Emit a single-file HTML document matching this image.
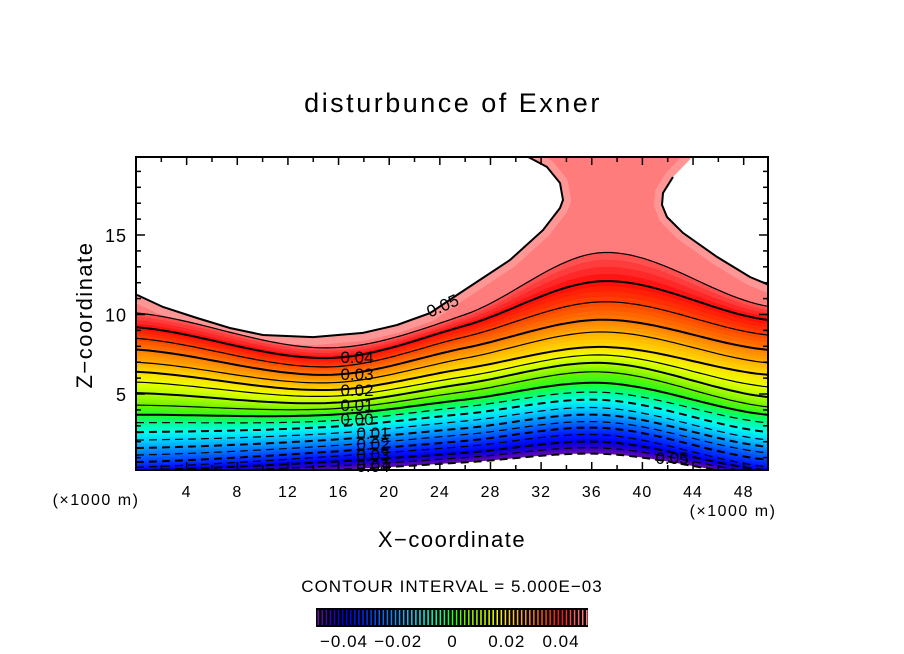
<!DOCTYPE html>
<html><head><meta charset="utf-8"><style>
html,body{margin:0;padding:0;background:#fff;}
svg{display:block;font-family:"Liberation Sans",sans-serif;}
</style></head><body>
<svg id="chart" width="904" height="654" viewBox="0 0 904 654" xmlns="http://www.w3.org/2000/svg">
<defs><clipPath id="plotclip"><rect x="136" y="157" width="632" height="313"/></clipPath></defs>
<text x="453" y="112" font-size="27" text-anchor="middle" letter-spacing="2.5">disturbunce of Exner</text>
<g id="plot" clip-path="url(#plotclip)"></g>
<g id="lines" clip-path="url(#plotclip)"></g>
<g id="labels"></g>
<rect x="136" y="157" width="632" height="313" fill="none" stroke="#000" stroke-width="2"/>
<g id="axes"></g>
<text transform="translate(92,315) rotate(-90)" font-size="22" text-anchor="middle" letter-spacing="1.5">Z−coordinate</text>
<text x="96" y="505" font-size="16" text-anchor="middle" letter-spacing="1.5">(×1000 m)</text>
<text x="733" y="516" font-size="16" text-anchor="middle" letter-spacing="1.5">(×1000 m)</text>
<text x="452" y="547" font-size="22" text-anchor="middle" letter-spacing="1.5">X−coordinate</text>
<text x="452" y="592" font-size="17" text-anchor="middle" letter-spacing="1">CONTOUR INTERVAL = 5.000E−03</text>
<g id="cbar"></g>
</svg>
<script>
const levels=[-0.05,-0.045,-0.04,-0.035,-0.03,-0.025,-0.02,-0.015,-0.01,-0.005,0,0.005,0.01,0.015,0.02,0.025,0.03,0.035,0.04,0.045,0.05];
const anchorX=[0,15,26,37,50];
const zAtX0=[-0.1,0.05,0.2,0.4,0.72,1.16,1.6,2.1,2.6,3.2,3.7,4.3,5.06,5.75,6.4,7.0,7.8,8.5,9.2,10.1,11.2];
const zAtX15=[0.2,0.45,0.72,1.05,1.35,1.72,2.1,2.5,2.92,3.3,3.68,4.05,4.43,4.85,5.25,5.7,6.2,6.7,7.26,7.9,8.6];
const zAtX26=[0.7,1.0,1.3,1.7,2.05,2.45,2.85,3.3,3.75,4.2,4.65,5.15,5.65,6.1,6.6,7.25,7.9,8.6,9.3,10.0,11.3];
const zAtX37=[1.23,1.6,1.98,2.42,2.86,3.24,3.68,4.12,4.62,5.1,5.69,6.38,6.95,7.45,7.96,8.9,9.67,10.8,12.1,13.9,17.0];
const zAtX50=[-0.2,0.0,0.2,0.41,0.85,1.29,1.67,2.1,2.6,3.18,3.68,4.18,4.8,5.44,6.2,6.95,7.77,8.7,9.65,10.5,12.0];
const bandColors=["#6a10a8","#3000c8","#0000e6","#0018ff","#0040ff","#0070ff","#00a0ff","#00d4ff","#00ffe8","#00ff90","#20ff20","#70f000","#b4ff00","#eaff00","#ffdc00","#ffae00","#ff7c00","#ff4400","#ff0a0a","#ff5a5a","#ff8484"];
const leftBoundX=[0,0.08,2.13,4.82,7.42,10.03,13.98,17.93,20.62,23.22,25.59,29.54,32.15,33.49,33.73,33.49,32.46,30.88];
const leftBoundZ=[19.9,11.23,10.47,9.78,9.15,8.71,8.58,8.84,9.34,10.09,11.35,13.43,15.31,16.70,17.20,18.27,19.28,19.95];
const rightBoundX=[44.0,42.42,41.63,41.55,41.94,43.21,45.89,48.5,50,50];
const rightBoundZ=[19.95,18.65,17.64,16.89,16.13,15.13,13.62,12.36,11.86,19.9];
const xTicks=[4,8,12,16,20,24,28,32,36,40,44,48];
const yTicks=[5,10,15];
const cbarTicks=[-0.04,-0.02,0,0.02,0.04];
const cbarTickLabels=["−0.04","−0.02","0","0.02","0.04"];

const NS="http://www.w3.org/2000/svg";
const sx=x=>136+x*12.66, sy=z=>473.5-z*15.9;
function mk(tag,attrs,parent){const e=document.createElementNS(NS,tag);for(const k in attrs)e.setAttribute(k,attrs[k]);parent.appendChild(e);return e;}
const cols=[zAtX0,zAtX15,zAtX26,zAtX37,zAtX50];
function zOf(li,x){
  let i=0;while(i<anchorX.length-2&&x>anchorX[i+1])i++;
  const g=k=>{k=Math.max(0,Math.min(anchorX.length-1,k));return cols[k][li];};
  const gx=k=>{if(k<0)return 2*anchorX[0]-anchorX[1];if(k>anchorX.length-1)return 2*anchorX[anchorX.length-1]-anchorX[anchorX.length-2];return anchorX[k];};
  const x0=anchorX[i],x1=anchorX[i+1],t=(x-x0)/(x1-x0);
  const p0=g(i-1),p1=g(i),p2=g(i+1),p3=g(i+2);
  const m1=(p2-p0)/(gx(i+1)-gx(i-1))*(x1-x0), m2=(p3-p1)/(gx(i+2)-gx(i))*(x1-x0);
  const t2=t*t,t3=t2*t;
  return (2*t3-3*t2+1)*p1+(t3-2*t2+t)*m1+(-2*t3+3*t2)*p2+(t3-t2)*m2;
}
const XS=[];for(let x=0;x<=50.001;x+=0.5)XS.push(x);
function hex(c){return [parseInt(c.slice(1,3),16),parseInt(c.slice(3,5),16),parseInt(c.slice(5,7),16)];}
function mix(a,b,t){const A=hex(a),B=hex(b);return "rgb("+A.map((v,i)=>Math.round(v+(B[i]-v)*t)).join(",")+")";}
const plot=document.getElementById('plot'), lines=document.getElementById('lines');
const topFill=mk('rect',{x:136,y:157,width:632,height:313,fill:"#ff7c7c"},plot);


function bpath(X,Z){return X.map((x,i)=>(i?"L":"M")+sx(x).toFixed(1)+","+sy(Z[i]).toFixed(1)).join(" ");}
[[leftBoundX,leftBoundZ,'left-white-region'],[rightBoundX,rightBoundZ,'right-white-region']].forEach(([X,Z,n])=>{
  const glow=mk('path',{d:bpath(X,Z)+"Z",fill:"none",stroke:"#ff9696","stroke-width":16,"stroke-linejoin":"round"},plot);
  
  
});
const SUB=4;
for(let li=levels.length-3;li>=0;li--){
  for(let s=SUB-1;s>=0;s--){
    const t=s/SUB;
    const top=XS.map(x=>{const a=zOf(li,x),b=zOf(li+1,x);return [sx(x),sy(a+(b-a)*(t+1/SUB))];});
    const pts=top.concat([[sx(50),500],[sx(0),500]]).map(p=>p[0].toFixed(1)+","+p[1].toFixed(1)).join(" ");
    const p=mk('polygon',{points:pts,fill:mix(bandColors[li],bandColors[li+1],t+0.5/SUB)},plot);
    
    
  }
}
{const top=XS.map(x=>[sx(x),sy(zOf(0,x))]);const pts=top.concat([[sx(50),500],[sx(0),500]]).map(p=>p[0].toFixed(1)+","+p[1].toFixed(1)).join(" ");
 const w=mk('polygon',{points:pts,fill:"#fff"},plot);
 
 }
[[leftBoundX,leftBoundZ,'left-white-region'],[rightBoundX,rightBoundZ,'right-white-region']].forEach(([X,Z,n])=>{
  const w=mk('path',{d:bpath(X,Z)+"Z",fill:"#fff",stroke:"none"},plot);
  
  
  const b=mk('path',{d:bpath(X.slice(1,X.length-(n[0]==='r'?1:0)),Z.slice(1,Z.length-(n[0]==='r'?1:0))),fill:"none",stroke:"#000","stroke-width":2},lines);
  
  
});
for(let li=0;li<levels.length-1;li++){
  const v=levels[li];
  const d=XS.map((x,i)=>(i?"L":"M")+sx(x).toFixed(1)+","+sy(zOf(li,x)).toFixed(1)).join(" ");
  const major=Math.abs(Math.round(v*1000)%10)===0;
  const a={d:d,fill:"none",stroke:"#000","stroke-width":major?2:1.2};
  if(v<0)a["stroke-dasharray"]="8 5";
  const l=mk('path',a,lines);
  
  
}
const labG=document.getElementById('labels');
[["0.04",357,363],["0.03",357,380],["0.02",357,396],["0.01",357,411],["0.00",357,425],["0.01",373,439],["0.02",373,450],["0.03",373,461],["0.04",373,472],["0.05",672,464]].forEach(([t,x,y])=>{
  const e=mk('text',{x:x,y:y,"font-size":17,"text-anchor":"middle"},labG);e.textContent=t;
  
  
});
{const e=mk('text',{x:0,y:0,"font-size":17,"text-anchor":"middle",transform:"translate(445,311) rotate(-24)"},labG);e.textContent="0.05";
 
 }
const ax=document.getElementById('axes');
for(let x=2;x<50;x+=2){const L=(x%4===0)?8:5;
  const t1=mk('line',{x1:sx(x),x2:sx(x),y1:470,y2:470-L,stroke:"#000","stroke-width":1.5},ax);
  
  
  const t2=mk('line',{x1:sx(x),x2:sx(x),y1:157,y2:157+L,stroke:"#000","stroke-width":1.5},ax);
  
  }
xTicks.forEach(x=>{const e=mk('text',{x:sx(x),y:497,"font-size":16,"text-anchor":"middle","letter-spacing":1},ax);e.textContent=x;
  
  });
for(let z=1;z<20;z++){const L=(z%5===0)?9:5;
  const t1=mk('line',{x1:136,x2:136+L,y1:sy(z),y2:sy(z),stroke:"#000","stroke-width":1.5},ax);
  
  
  const t2=mk('line',{x1:768,x2:768-L,y1:sy(z),y2:sy(z),stroke:"#000","stroke-width":1.5},ax);
  
  }
yTicks.forEach(z=>{const e=mk('text',{x:127,y:sy(z)+7,"font-size":18,"text-anchor":"end","letter-spacing":1},ax);e.textContent=z;
  
  });
const cb=document.getElementById('cbar');
const cx=v=>452.5+v*2712.5;
const bg=mk('rect',{x:316,y:608,width:272,height:19,fill:"#000"},cb);


for(let v=-0.0495;v<=0.0496;v+=0.0015){
  const f=(v-levels[0])/0.005;const i=Math.min(levels.length-2,Math.floor(f));
  const c=mix(bandColors[i],bandColors[i+1],f-i);
  const l=mk('line',{x1:cx(v),x2:cx(v),y1:610,y2:625,stroke:c,"stroke-width":1.5},cb);
  
  
}
cbarTicks.forEach((v,i)=>{const e=mk('text',{x:cx(v),y:647,"font-size":17,"text-anchor":"middle","letter-spacing":1},cb);e.textContent=cbarTickLabels[i];
  
  });
</script>
</body></html>
